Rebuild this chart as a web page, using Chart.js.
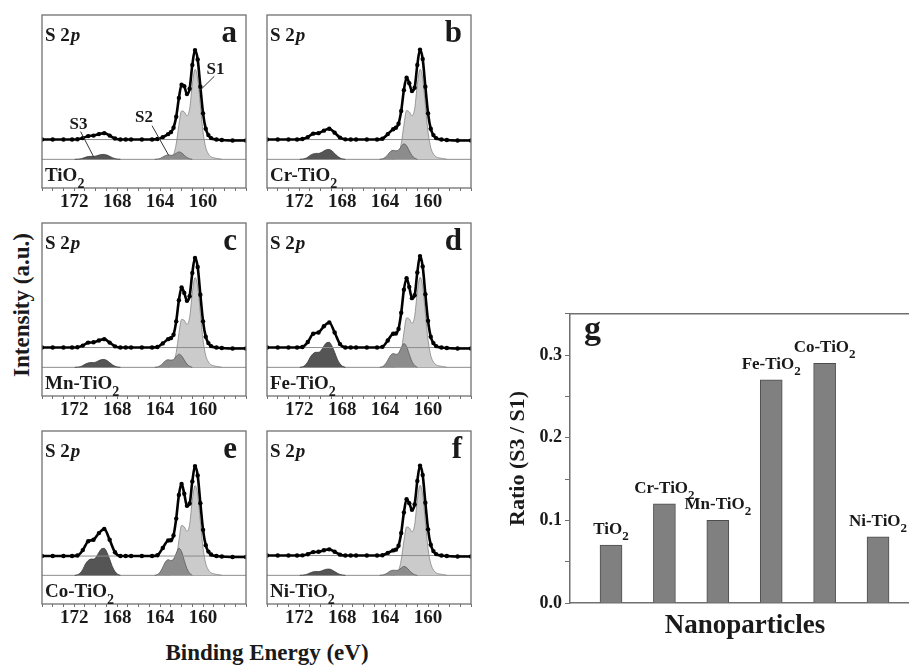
<!DOCTYPE html>
<html lang="es">
<head>
<meta charset="utf-8">
<title>S 2p XPS - TiO2 dopado</title>
<script src="https://cdn.jsdelivr.net/npm/chart.js@4.4.1/dist/chart.umd.min.js"></script>
<style>
  body { margin: 0; background: #fff; }
  #lienzo { position: relative; width: 909px; height: 667px; overflow: hidden; font-family: "Liberation Serif", "Times New Roman", serif; }
  canvas { position: absolute; }
  .titulo { position: absolute; font-weight: bold; font-size: 23px; color: #1a1a1a; white-space: nowrap; transform: translate(-50%, -50%); }
  #titulo-y { left: 22px; top: 305px; transform: translate(-50%, -50%) rotate(-90deg); }
  #titulo-x { left: 267px; top: 653px; }
</style>
</head>
<body>
<div id="lienzo">
  <div class="titulo" id="titulo-y">Intensity (a.u.)</div>
  <div class="titulo" id="titulo-x">Binding Energy (eV)</div>
</div>
<script>
// muestras y cociente S3/S1 (panel g)
const categorias = ['TiO2', 'Cr-TiO2', 'Mn-TiO2', 'Fe-TiO2', 'Co-TiO2', 'Ni-TiO2'];
const letras = ['a', 'b', 'c', 'd', 'e', 'f'];
const ratioS3S1 = [0.07, 0.12, 0.10, 0.27, 0.29, 0.08];

// espectro medido (puntos negros), energía de enlace en eV
const energiaDatos = [175, 174, 173, 172.2, 171.7, 171.2, 170.7, 170.2, 169.7, 169.2, 168.7, 168.2, 167.7, 167.2, 166.7, 165.7, 164.75, 164.25, 163.75, 163.25,
  163, 162.75, 162.5, 162.25, 162, 161.75, 161.5, 161.25, 161, 160.75, 160.5, 160.25, 160, 159.75, 159.5, 159.25, 158.75, 158.25, 157.25, 156];
const datosA = [20, 20, 20, 20, 20.3, 21.5, 23.5, 24, 25.5, 26.5, 24, 21, 20, 20, 20, 20, 20, 20.5, 22.5, 25.5,
  27.5, 32, 43, 62, 75.5, 74, 66, 71.5, 95.5, 110.5, 101, 73.5, 46.5, 31, 24.5, 21.5, 20, 19.5, 19, 19];
const datosB = [20, 20, 20, 20, 20.5, 22.5, 26, 26.5, 29, 31, 27, 22, 20.2, 20, 20, 20, 20, 20.8, 25.5, 30.5,
  32, 36, 49, 70, 82.5, 77, 69, 72.5, 95.5, 111, 101.5, 73.5, 46.5, 31, 24.5, 21.5, 20, 19.5, 19, 19];
const datosC = [20, 20, 20, 20, 20.3, 22, 25, 25.3, 27.2, 28.5, 25, 21.2, 20, 20, 20, 20, 20, 20.5, 24.2, 28.5,
  29.5, 33, 46.5, 67.8, 80.7, 75.3, 67.3, 72, 95.5, 110.7, 101.5, 73.5, 46.5, 31, 24.5, 21.5, 20, 19.5, 19, 19];
const datosD = [20, 20, 20, 20, 20.5, 25.6, 34, 35.2, 41.5, 45.3, 35.2, 23.5, 20, 20, 20, 20, 20, 20.7, 27.2, 33.9,
  34.2, 38.9, 55.2, 78.5, 90.1, 81.2, 70, 72.9, 96, 112.5, 102, 74, 47, 31, 24.5, 21.5, 20, 19.5, 19, 19];
const datosE = [19.5, 19.5, 19.5, 19.5, 20, 25.5, 34.5, 36, 42.7, 46.8, 36, 23.3, 19.5, 19.5, 19.5, 19.5, 19.5, 20.3, 27.7, 35.3,
  35.5, 40.4, 57.4, 81.3, 92.5, 82.5, 70.3, 72.7, 95, 110.5, 101, 73, 46, 30.5, 24, 21, 19.5, 19, 18.5, 18.5];
const datosF = [20, 20, 20, 20, 20.2, 21.4, 23.5, 23.8, 25.4, 26.3, 23.8, 20.9, 20, 20, 20, 20, 20, 20.3, 22.7, 25.2,
  26, 29.9, 42.9, 63.5, 76.9, 73, 66.3, 71.7, 95.5, 111, 101.5, 73.5, 46.5, 31, 24.5, 21.5, 20, 19.5, 19, 19];
// nivel de la línea gris de fondo bajo cada espectro
const fondoDatos = [20, 20, 20, 20, 19.5, 20];

// componentes ajustadas (desplazadas hacia abajo, base en 0)
const energiaS1 = [163.25, 163, 162.75, 162.5, 162.25, 162, 161.75, 161.5, 161.25, 161, 160.75, 160.5, 160.25, 160, 159.75, 159.5, 159.25, 158.75, 158.25];
const s1A = [0, 1, 4.5, 15.5, 34.5, 49, 48, 44, 51, 75.5, 91, 82, 54.5, 27.5, 12, 5.5, 2.5, 1, 0];
const s1B = [0, 1, 4.5, 15.5, 34.5, 49.5, 48, 44, 51, 75.5, 91, 82, 54.5, 27.5, 12, 5.5, 2.5, 1, 0];
const s1C = [0, 1, 4.5, 15, 34, 48.5, 47.5, 43.5, 50.5, 75, 90.7, 82, 54.5, 27.5, 12, 5.5, 2.5, 1, 0];
const s1D = [0, 1, 4.5, 15.5, 35, 50, 49, 44.5, 51.5, 76, 91, 82, 54.5, 27.5, 12, 5.5, 2.5, 1, 0];
const s1E = [0, 1, 4.5, 15.5, 35, 50.5, 49, 44.5, 51.5, 76, 90.7, 82, 54.5, 27.5, 12, 5.5, 2.5, 1, 0];
const s1F = [0, 1, 4.5, 15.5, 34.5, 49, 48, 44, 51, 76, 91, 81.5, 54, 27, 12, 5.5, 2.5, 1, 0];

const energiaS2 = [164.5, 164.25, 164, 163.75, 163.5, 163.25, 163, 162.75, 162.5, 162.25, 162, 161.75, 161.5, 161.25, 161];
const s2A = [0, 0.2, 0.9, 2.3, 3.8, 4.4, 4.1, 4.5, 6.2, 7.5, 6.6, 4.1, 1.9, 0.6, 0];
const s2B = [0, 0.5, 1.9, 4.7, 7.9, 9.1, 8.6, 9.4, 12.9, 15.7, 13.8, 8.6, 3.9, 1.3, 0];
const s2C = [0, 0.4, 1.6, 4.0, 6.7, 7.7, 7.3, 8.0, 10.9, 13.3, 11.7, 7.3, 3.3, 1.1, 0];
const s2D = [0, 0.7, 2.9, 7.2, 12, 13.9, 13.2, 14.4, 19.7, 24, 21.1, 13.2, 6, 1.9, 0];
const s2E = [0, 0.8, 3.3, 8.2, 13.7, 15.8, 15, 16.4, 22.4, 27.3, 24, 15, 6.8, 2.2, 0];
const s2F = [0, 0.3, 1.1, 2.7, 4.5, 5.2, 5, 5.4, 7.4, 9, 7.9, 5, 2.3, 0.7, 0];

const energiaS3 = [171.95, 171.7, 171.45, 171.2, 170.95, 170.7, 170.45, 170.2, 169.95, 169.7, 169.45, 169.2, 168.95, 168.7, 168.45, 168.2, 167.95, 167.7];
const s3A = [0, 0.1, 0.4, 1.1, 2.1, 2.8, 3, 3, 3.4, 4.3, 4.9, 5, 4.3, 3, 1.7, 0.7, 0.2, 0];
const s3B = [0, 0.2, 0.8, 2.2, 4.2, 5.5, 6, 6, 6.8, 8.5, 9.8, 10, 8.5, 6, 3.3, 1.4, 0.4, 0];
const s3C = [0, 0.2, 0.6, 1.8, 3.4, 4.4, 4.8, 4.8, 5.4, 6.8, 7.8, 8, 6.8, 4.8, 2.6, 1.1, 0.3, 0];
const s3D = [0, 0.5, 2, 5.6, 10.6, 13.9, 15.2, 15.2, 17.2, 21.5, 24.8, 25.3, 21.5, 15.2, 8.3, 3.5, 1, 0];
const s3E = [0, 0.5, 2.2, 6, 11.5, 15, 16.4, 16.4, 18.6, 23.2, 26.8, 27.3, 23.2, 16.4, 9, 3.8, 1.1, 0];
const s3F = [0, 0.1, 0.5, 1.4, 2.6, 3.5, 3.8, 3.8, 4.3, 5.4, 6.2, 6.3, 5.4, 3.8, 2.1, 0.9, 0.3, 0];

// ejes
const ejeEnergia = [175, 156];
const ticksEnergia = [172, 168, 164, 160];
const ejeIntensidad = [-29, 146];
const ejeRatio = [0, 0.35];

// etiquetas S1, S2, S3 del panel a (texto, origen y punta de la flecha en unidades de datos)
const notasPanelA = [
  { texto: 'S1', x: 158.85, y: 90.5, desde: [158.95, 84], hasta: [160.35, 69] },
  { texto: 'S2', x: 165.5, y: 41.7, desde: [164.75, 34], hasta: [163.2, 4] },
  { texto: 'S3', x: 171.6, y: 35, desde: [171.4, 28], hasta: [170.15, 1.7] }
];

const espectros = [datosA, datosB, datosC, datosD, datosE, datosF];
const ajustesS1 = [s1A, s1B, s1C, s1D, s1E, s1F];
const ajustesS2 = [s2A, s2B, s2C, s2D, s2E, s2F];
const ajustesS3 = [s3A, s3B, s3C, s3D, s3E, s3F];

const fuente = '"Liberation Serif", "Times New Roman", serif';
const colorTexto = '#1a1a1a';
const colorMarco = '#707070';
Chart.defaults.font.family = fuente;

const lienzo = document.getElementById('lienzo');

// texto con el "2" final como subíndice
function textoSubindice(ctx, texto, x, y, tam, alinear) {
  const base = texto.slice(0, -1);
  const sub = texto.slice(-1);
  ctx.font = `bold ${tam}px ${fuente}`;
  const wBase = ctx.measureText(base).width;
  ctx.font = `bold ${Math.round(tam * 0.75)}px ${fuente}`;
  const wSub = ctx.measureText(sub).width;
  let x0 = alinear === 'center' ? x - (wBase + wSub) / 2 : x;
  ctx.textAlign = 'left';
  ctx.font = `bold ${tam}px ${fuente}`;
  ctx.fillText(base, x0, y);
  ctx.font = `bold ${Math.round(tam * 0.75)}px ${fuente}`;
  ctx.fillText(sub, x0 + wBase, y + tam * 0.35);
}

// marco y rótulos de los paneles a-f
const textoPanel = {
  id: 'textoPanel',
  afterDraw(chart, args, opts) {
    const { ctx, chartArea: a, scales } = chart;
    ctx.save();
    ctx.strokeStyle = colorMarco;
    ctx.lineWidth = 1.3;
    ctx.strokeRect(a.left, a.top, a.right - a.left, a.bottom - a.top);

    ctx.fillStyle = colorTexto;
    ctx.textBaseline = 'alphabetic';
    ctx.textAlign = 'left';
    ctx.font = `bold 19px ${fuente}`;
    ctx.fillText('S 2', a.left + 3, a.top + 26);
    const w = ctx.measureText('S 2').width;
    ctx.font = `italic bold 19px ${fuente}`;
    ctx.fillText('p', a.left + 3 + w + 1, a.top + 26);

    ctx.font = `bold 31px ${fuente}`;
    ctx.textAlign = 'right';
    ctx.fillText(opts.letra, a.right - 9, a.top + 27);

    textoSubindice(ctx, opts.muestra, a.left + 3, a.top + 166, 19, 'left');

    // flechas S1/S2/S3
    (opts.notas || []).forEach(n => {
      const px = v => scales.x.getPixelForValue(v);
      const py = v => scales.y.getPixelForValue(v);
      ctx.strokeStyle = '#333';
      ctx.lineWidth = 1;
      ctx.beginPath();
      ctx.moveTo(px(n.desde[0]), py(n.desde[1]));
      ctx.lineTo(px(n.hasta[0]), py(n.hasta[1]));
      ctx.stroke();
      ctx.font = `bold 17px ${fuente}`;
      ctx.textAlign = 'center';
      ctx.textBaseline = 'middle';
      ctx.fillText(n.texto, px(n.x), py(n.y));
    });
    ctx.restore();
  }
};

const columnas = [40, 265];
const filas = [13, 221, 429];
const anchoPanel = 208;
const altoPanel = 175;

function puntos(xs, ys) {
  return xs.map((x, k) => ({ x: x, y: ys[k] }));
}

function creaPanel(i) {
  const canvas = document.createElement('canvas');
  const x0 = columnas[i % 2];
  const y0 = filas[Math.floor(i / 2)];
  canvas.width = anchoPanel + 4;
  canvas.height = altoPanel + 2 + 34;
  canvas.style.left = (x0 - 2) + 'px';
  canvas.style.top = (y0 - 2) + 'px';
  lienzo.appendChild(canvas);

  const linea = { pointRadius: 0, cubicInterpolationMode: 'monotone', fill: false };
  new Chart(canvas, {
    type: 'line',
    data: {
      datasets: [
        { ...linea, data: puntos(energiaDatos, espectros[i]), borderColor: '#000', backgroundColor: '#000',
          borderWidth: 2.6, pointRadius: 2.2, pointBorderWidth: 0, order: 0 },
        { ...linea, data: puntos(ejeEnergia, [fondoDatos[i], fondoDatos[i]]), borderColor: '#8c8c8c', borderWidth: 1, order: 1 },
        { ...linea, data: puntos(energiaS3, ajustesS3[i]), borderColor: '#3a3a3a', borderWidth: 0.8,
          backgroundColor: '#555555', fill: 'origin', order: 2 },
        { ...linea, data: puntos(energiaS2, ajustesS2[i]), borderColor: '#5a5a5a', borderWidth: 0.8,
          backgroundColor: '#8c8c8c', fill: 'origin', order: 3 },
        { ...linea, data: puntos(energiaS1, ajustesS1[i]), borderColor: '#858585', borderWidth: 0.8,
          backgroundColor: '#cbcbcb', fill: 'origin', order: 4 },
        { ...linea, data: puntos(ejeEnergia, [0, 0]), borderColor: '#8c8c8c', borderWidth: 1, order: 5 }
      ]
    },
    options: {
      responsive: false,
      animation: false,
      events: [],
      layout: { padding: { left: 2, right: 2, top: 2, bottom: 0 } },
      plugins: {
        legend: { display: false },
        tooltip: { enabled: false },
        textoPanel: { letra: letras[i], muestra: categorias[i], notas: i === 0 ? notasPanelA : [] }
      },
      scales: {
        x: {
          type: 'linear',
          reverse: true,
          min: Math.min(...ejeEnergia),
          max: Math.max(...ejeEnergia),
          afterFit: s => { s.height = 34; },
          border: { display: false },
          grid: { drawOnChartArea: false, tickLength: 3, color: colorMarco },
          ticks: {
            stepSize: 1, autoSkip: false, maxRotation: 0, padding: 0, color: colorTexto,
            font: { size: 19, weight: 'bold' },
            callback: v => ticksEnergia.includes(v) ? String(v) : ''
          }
        },
        y: { display: false, min: ejeIntensidad[0], max: ejeIntensidad[1] }
      }
    },
    plugins: [textoPanel]
  });
}

for (let i = 0; i < 6; i++) creaPanel(i);

// panel g: borde superior, letra y etiquetas de las barras
const marcoG = {
  id: 'marcoG',
  afterDraw(chart) {
    const { ctx, chartArea: a } = chart;
    ctx.save();
    ctx.strokeStyle = colorMarco;
    ctx.lineWidth = 1.5;
    ctx.beginPath();
    ctx.moveTo(a.left, a.top);
    ctx.lineTo(a.right, a.top);
    ctx.stroke();
    ctx.fillStyle = colorTexto;
    ctx.textAlign = 'left';
    ctx.textBaseline = 'alphabetic';
    ctx.font = `bold 34px ${fuente}`;
    ctx.fillText('g', a.left + 14, a.top + 25);
    const meta = chart.getDatasetMeta(0);
    meta.data.forEach((barra, k) => {
      textoSubindice(ctx, categorias[k], barra.x, barra.y - 11, 17, 'center');
    });
    ctx.restore();
  }
};

const canvasG = document.createElement('canvas');
canvasG.width = 420;
canvasG.height = 367;
canvasG.style.left = '500px';
canvasG.style.top = '300px';
lienzo.appendChild(canvasG);

new Chart(canvasG, {
  type: 'bar',
  data: {
    datasets: [{
      data: categorias.map((c, k) => ({ x: k + 1, y: ratioS3S1[k] })),
      backgroundColor: '#808080',
      borderColor: '#4d4d4d',
      borderWidth: 1,
      barThickness: 22
    }]
  },
  options: {
    responsive: false,
    animation: false,
    events: [],
    layout: { padding: { top: 12, left: 0, right: 0, bottom: 0 } },
    plugins: { legend: { display: false }, tooltip: { enabled: false } },
    scales: {
      x: {
        type: 'linear',
        min: 0.232,
        max: 6.786,
        offset: false,
        afterFit: s => { s.height = 64; },
        ticks: { display: false },
        grid: { display: true, drawOnChartArea: false, drawTicks: false },
        border: { display: true, color: colorMarco, width: 1.5 },
        title: {
          display: true, text: 'Nanoparticles', color: colorTexto,
          font: { size: 27, weight: 'bold' }, padding: { top: 0, bottom: 25 }
        }
      },
      y: {
        min: ejeRatio[0],
        max: ejeRatio[1],
        afterFit: s => { s.width = 70; },
        grid: { drawOnChartArea: false, tickLength: 5, color: colorMarco },
        border: { color: colorMarco, width: 1.5 },
        ticks: {
          stepSize: 0.05, autoSkip: false, padding: 3, color: colorTexto,
          font: { size: 18, weight: 'bold' },
          callback: v => {
            const r = Math.round(v * 100);
            return r % 10 === 0 ? (r / 100).toFixed(1) : '';
          }
        },
        title: {
          display: true, text: 'Ratio (S3 / S1)', color: colorTexto,
          font: { size: 22, weight: 'bold' }, padding: { top: 5, bottom: 0 }
        }
      }
    }
  },
  plugins: [marcoG]
});
</script>
</body>
</html>
